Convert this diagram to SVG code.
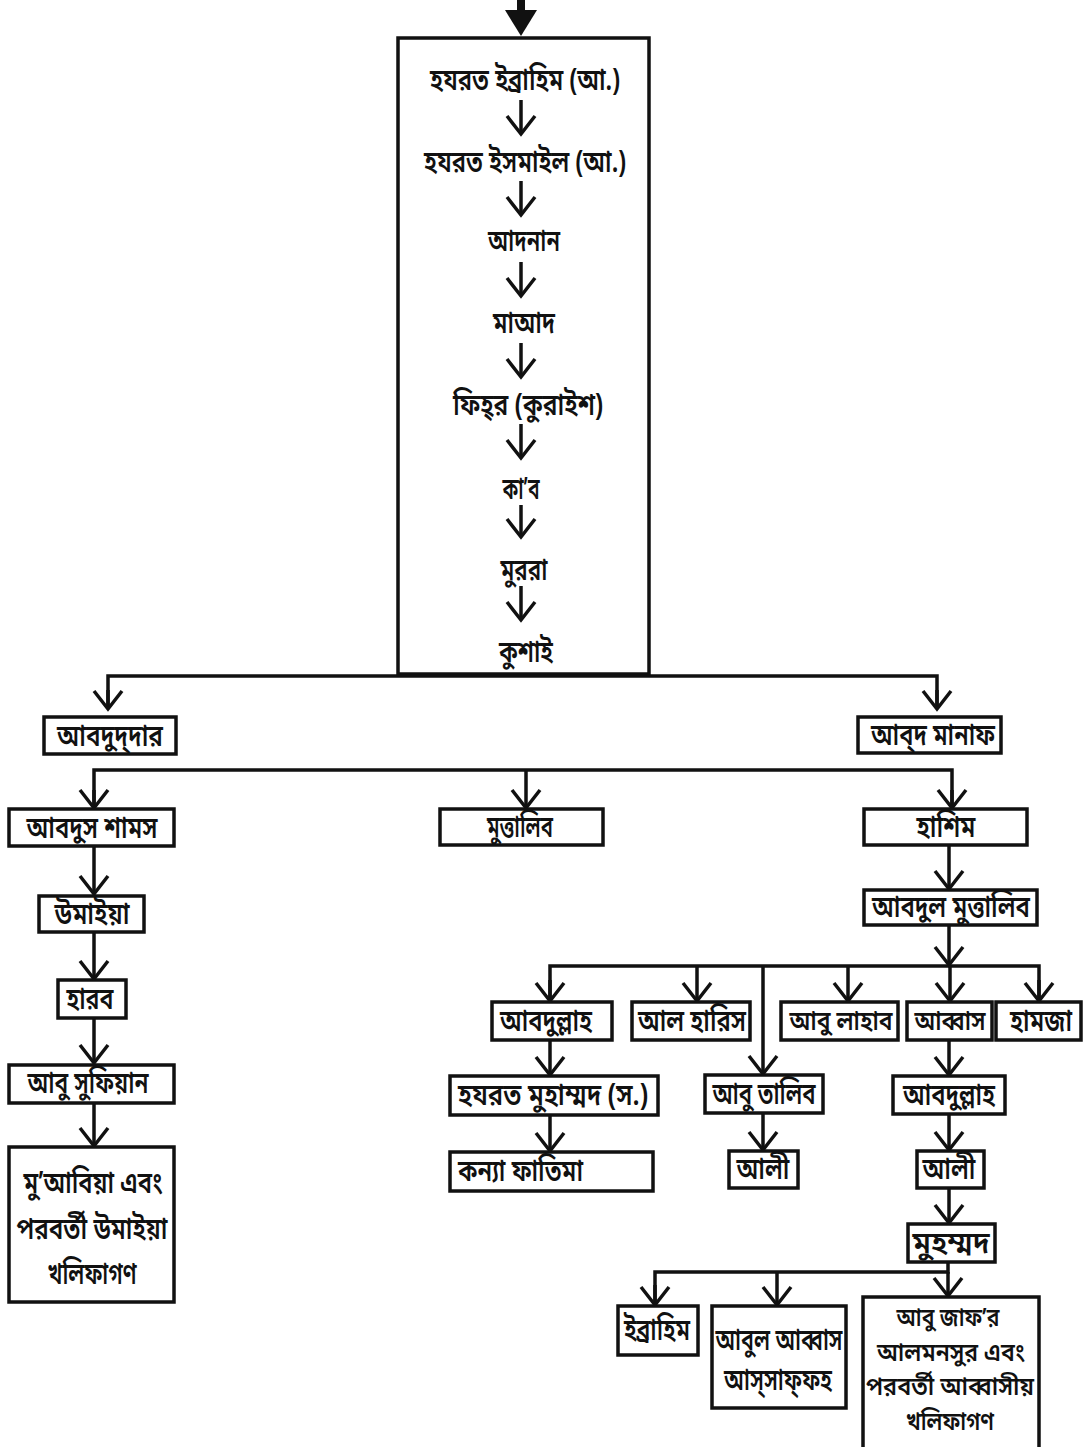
<svg xmlns="http://www.w3.org/2000/svg" width="1087" height="1447" viewBox="0 0 1087 1447">
<style>
.b{fill:#fff;stroke:#111;stroke-width:3.5}
.t{font-family:"Noto Sans Bengali","Lohit Bengali","FreeSans","Noto Sans",sans-serif;font-size:30px;font-weight:600;fill:#111;text-anchor:middle}
.s{font-size:25px}
.m{font-size:27px}
.c{fill:none;stroke:#111;stroke-width:3.5}
.a{fill:none;stroke:#111;stroke-width:3.5;marker-end:url(#v)}
</style>
<defs>
<marker id="v" markerUnits="userSpaceOnUse" markerWidth="40" markerHeight="40" viewBox="-22 -20 26 40" refX="0" refY="0" orient="auto" overflow="visible">
<path d="M-18,-14 L0,0 L-18,14" fill="none" stroke="#111" stroke-width="3.5"/>
</marker>
</defs>
<rect width="1087" height="1447" fill="#fff"/>
<g id="main">
<rect class="b" x="398" y="38" width="251" height="636" stroke-width="4.5"/>
<text class="t" x="525" y="90" textLength="190" lengthAdjust="spacingAndGlyphs">হযরত ইব্রাহিম (আ.)</text>
<text class="t" x="525" y="172" textLength="202" lengthAdjust="spacingAndGlyphs">হযরত ইসমাইল (আ.)</text>
<text class="t" x="524" y="251" textLength="72" lengthAdjust="spacingAndGlyphs">আদনান</text>
<text class="t" x="524" y="333" textLength="62" lengthAdjust="spacingAndGlyphs">মাআদ</text>
<text class="t" x="528" y="415" textLength="150" lengthAdjust="spacingAndGlyphs">ফিহ্‌র (কুরাইশ)</text>
<text class="t" x="521" y="499" textLength="37" lengthAdjust="spacingAndGlyphs">কা’ব</text>
<text class="t" x="524" y="580" textLength="47" lengthAdjust="spacingAndGlyphs">মুররা</text>
<text class="t" x="526" y="662" textLength="54" lengthAdjust="spacingAndGlyphs">কুশাই</text>
</g>
<g id="connectors">
<line x1="521" y1="0" x2="521" y2="14" stroke="#111" stroke-width="8"/>
<polygon points="505,10 537,10 521,36" fill="#111"/>
<line class="a" x1="521" y1="100" x2="521" y2="134"/>
<line class="a" x1="521" y1="181" x2="521" y2="215"/>
<line class="a" x1="521" y1="262" x2="521" y2="296"/>
<line class="a" x1="521" y1="343" x2="521" y2="377"/>
<line class="a" x1="521" y1="424" x2="521" y2="458"/>
<line class="a" x1="521" y1="505" x2="521" y2="537"/>
<line class="a" x1="521" y1="586" x2="521" y2="620"/>
<polyline class="c" points="108,708 108,676 937,676 937,708" stroke-width="4"/>
<line class="a" x1="108" y1="690" x2="108" y2="709"/>
<line class="a" x1="937" y1="690" x2="937" y2="709"/>
<polyline class="c" points="94,807 94,770 952,770 952,807" stroke-width="4"/>
<line class="a" x1="94" y1="790" x2="94" y2="808"/>
<line class="a" x1="526" y1="770" x2="526" y2="808"/>
<line class="a" x1="952" y1="790" x2="952" y2="808"/>
<line class="a" x1="949" y1="846" x2="949" y2="889"/>
<line class="a" x1="949" y1="925" x2="949" y2="965"/>
<polyline class="c" points="550,1000 550,966 1039,966 1039,1000" stroke-width="4"/>
<line class="a" x1="550" y1="980" x2="550" y2="1001"/>
<line class="a" x1="697" y1="966" x2="697" y2="1001"/>
<line class="a" x1="763" y1="966" x2="763" y2="1074"/>
<line class="a" x1="848" y1="966" x2="848" y2="1001"/>
<line class="a" x1="950" y1="966" x2="950" y2="1001"/>
<line class="a" x1="1039" y1="980" x2="1039" y2="1001"/>
<line class="a" x1="550" y1="1040" x2="550" y2="1075"/>
<line class="a" x1="550" y1="1115" x2="550" y2="1151"/>
<line class="a" x1="763" y1="1113" x2="763" y2="1150"/>
<line class="a" x1="949" y1="1040" x2="949" y2="1075"/>
<line class="a" x1="949" y1="1114" x2="949" y2="1150"/>
<line class="a" x1="949" y1="1188" x2="949" y2="1223"/>
<polyline class="c" points="655,1304 655,1272 948,1272 948,1262"/>
<line class="a" x1="655" y1="1285" x2="655" y2="1305"/>
<line class="a" x1="777" y1="1272" x2="777" y2="1305"/>
<line class="a" x1="948" y1="1272" x2="948" y2="1296"/>
<line class="a" x1="94" y1="847" x2="94" y2="894"/>
<line class="a" x1="94" y1="932" x2="94" y2="979"/>
<line class="a" x1="94" y1="1018" x2="94" y2="1063"/>
<line class="a" x1="94" y1="1103" x2="94" y2="1146"/>
</g>
<g id="abdud-dar"><rect class="b" x="44" y="717" width="132" height="37"/><text class="t" x="110" y="746" textLength="106" lengthAdjust="spacingAndGlyphs">আবদুদ্‌দার</text></g>
<g id="abd-manaf"><rect class="b" x="858" y="717" width="143" height="36"/><text class="t" x="933" y="745" textLength="124" lengthAdjust="spacingAndGlyphs">আব্‌দ মানাফ</text></g>
<g id="abdus-shams"><rect class="b" x="9" y="809" width="165" height="37"/><text class="t" x="92" y="838" textLength="131" lengthAdjust="spacingAndGlyphs">আবদুস শামস</text></g>
<g id="muttalib"><rect class="b" x="440" y="809" width="163" height="36"/><text class="t" x="520" y="837" textLength="66" lengthAdjust="spacingAndGlyphs">মুত্তালিব</text></g>
<g id="hashim"><rect class="b" x="864" y="809" width="163" height="36"/><text class="t" x="946" y="837" textLength="59" lengthAdjust="spacingAndGlyphs">হাশিম</text></g>
<g id="abdul-muttalib"><rect class="b" x="864" y="890" width="173" height="35"/><text class="t" x="951" y="917" textLength="158" lengthAdjust="spacingAndGlyphs">আবদুল মুত্তালিব</text></g>
<g id="umayya"><rect class="b" x="39" y="896" width="105" height="36"/><text class="t" x="92" y="924" textLength="75" lengthAdjust="spacingAndGlyphs">উমাইয়া</text></g>
<g id="harb"><rect class="b" x="58" y="980" width="68" height="38"/><text class="t" x="90" y="1009" textLength="47" lengthAdjust="spacingAndGlyphs">হারব</text></g>
<g id="abu-sufiyan"><rect class="b" x="9" y="1065" width="165" height="38"/><text class="t" x="88" y="1093" textLength="121" lengthAdjust="spacingAndGlyphs">আবু সুফিয়ান</text></g>
<g id="muawiya"><rect class="b" x="9" y="1147" width="165" height="155"/>
<text class="t" x="93" y="1193" textLength="139" lengthAdjust="spacingAndGlyphs">মু’আবিয়া এবং</text>
<text class="t" x="92" y="1239" textLength="151" lengthAdjust="spacingAndGlyphs">পরবর্তী উমাইয়া</text>
<text class="t" x="92" y="1284" textLength="89" lengthAdjust="spacingAndGlyphs">খলিফাগণ</text></g>
<g id="abdullah-1"><rect class="b" x="492" y="1002" width="120" height="38"/><text class="t" x="546" y="1031" textLength="92" lengthAdjust="spacingAndGlyphs">আবদুল্লাহ</text></g>
<g id="al-haris"><rect class="b" x="632" y="1002" width="118" height="38"/><text class="t" x="692" y="1031" textLength="108" lengthAdjust="spacingAndGlyphs">আল হারিস</text></g>
<g id="abu-lahab"><rect class="b" x="781" y="1002" width="117" height="38"/><text class="t m" x="841" y="1030" textLength="103" lengthAdjust="spacingAndGlyphs">আবু লাহাব</text></g>
<g id="abbas"><rect class="b" x="907" y="1002" width="85" height="38"/><text class="t m" x="950" y="1030" textLength="71" lengthAdjust="spacingAndGlyphs">আব্বাস</text></g>
<g id="hamza"><rect class="b" x="996" y="1002" width="85" height="38"/><text class="t" x="1041" y="1031" textLength="62" lengthAdjust="spacingAndGlyphs">হামজা</text></g>
<g id="muhammad-s"><rect class="b" x="450" y="1076" width="208" height="39"/><text class="t" x="553" y="1105" textLength="190" lengthAdjust="spacingAndGlyphs">হযরত মুহাম্মদ (স.)</text></g>
<g id="fatima"><rect class="b" x="450" y="1152" width="203" height="39"/><text class="t" x="458" y="1181" style="text-anchor:start" textLength="125" lengthAdjust="spacingAndGlyphs">কন্যা ফাতিমা</text></g>
<g id="abu-talib"><rect class="b" x="705" y="1075" width="118" height="38"/><text class="t" x="764" y="1104" textLength="103" lengthAdjust="spacingAndGlyphs">আবু তালিব</text></g>
<g id="ali-1"><rect class="b" x="729" y="1151" width="69" height="37"/><text class="t" x="763" y="1179" textLength="53" lengthAdjust="spacingAndGlyphs">আলী</text></g>
<g id="abdullah-2"><rect class="b" x="893" y="1076" width="112" height="38"/><text class="t" x="949" y="1105" textLength="92" lengthAdjust="spacingAndGlyphs">আবদুল্লাহ</text></g>
<g id="ali-2"><rect class="b" x="917" y="1151" width="67" height="37"/><text class="t" x="949" y="1179" textLength="53" lengthAdjust="spacingAndGlyphs">আলী</text></g>
<g id="muhammad"><rect class="b" x="908" y="1224" width="87" height="38"/><text class="t" x="951" y="1253" textLength="77" lengthAdjust="spacingAndGlyphs">মুহম্মদ</text></g>
<g id="ibrahim"><rect class="b" x="618" y="1306" width="80" height="49"/><text class="t" x="657" y="1340" textLength="66" lengthAdjust="spacingAndGlyphs">ইব্রাহিম</text></g>
<g id="abul-abbas"><rect class="b" x="712" y="1306" width="134" height="102"/>
<text class="t" x="779" y="1350" textLength="127" lengthAdjust="spacingAndGlyphs">আবুল আব্বাস</text>
<text class="t" x="778" y="1390" textLength="108" lengthAdjust="spacingAndGlyphs">আস্‌সাফ্‌ফহ</text></g>
<g id="abu-jafar"><rect class="b" x="863" y="1297" width="176" height="160"/>
<text class="t s" x="948" y="1326" textLength="103" lengthAdjust="spacingAndGlyphs">আবু জাফ’র</text>
<text class="t s" x="951" y="1361" textLength="148" lengthAdjust="spacingAndGlyphs">আলমনসুর এবং</text>
<text class="t s" x="950" y="1395" textLength="168" lengthAdjust="spacingAndGlyphs">পরবর্তী আব্বাসীয়</text>
<text class="t s" x="950" y="1430" textLength="88" lengthAdjust="spacingAndGlyphs">খলিফাগণ</text></g>
</svg>
